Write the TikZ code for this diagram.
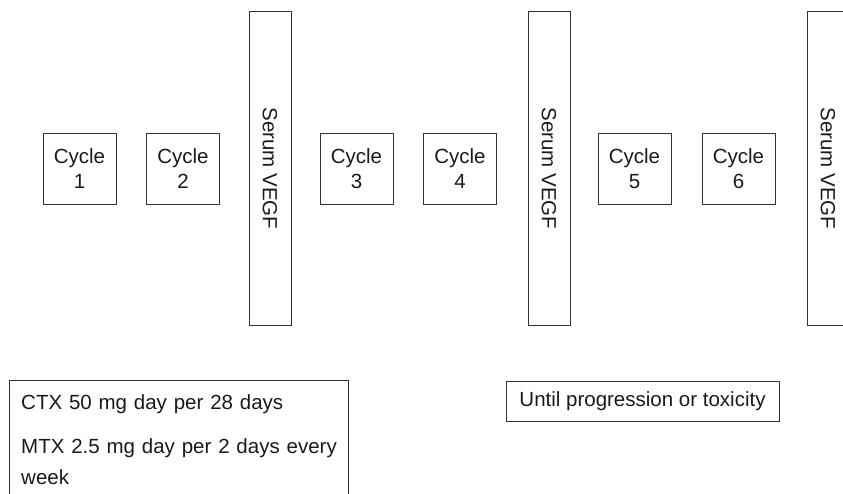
\documentclass[tikz,border=0pt]{standalone}
\usepackage{fontspec}
\setmainfont{Liberation Sans}
\definecolor{linec}{HTML}{333333}
\definecolor{textc}{HTML}{1A1A1A}
\begin{document}
\begin{tikzpicture}[x=1pt,y=-1pt,
  box/.style={draw=linec, line width=0.9pt, text=textc},
  cyc/.style={box, minimum width=73pt, minimum height=71pt, inner sep=0pt, align=center,
    font=\fontsize{20.5}{25}\selectfont},
  vegf/.style={box, rotate=-90, minimum width=314pt, minimum height=42pt, inner sep=0pt,
    font=\fontsize{20.5}{25}\selectfont},
  note/.style={text=textc, inner sep=0pt, font=\fontsize{20.5}{31}\selectfont}]
\useasboundingbox (0,0) rectangle (843,494);
\clip (0,0) rectangle (843,494);
\node[cyc] (c1) at (79.5,168.5) {Cycle\\1};
\node[cyc] (c2) at (183,168.5) {Cycle\\2};
\node[vegf] (v1) at (270,168.5) {Serum VEGF};
\node[cyc] (c3) at (356.5,168.5) {Cycle\\3};
\node[cyc] (c4) at (460,168.5) {Cycle\\4};
\node[vegf] (v2) at (549,168.5) {Serum VEGF};
\node[cyc] (c5) at (634.5,168.5) {Cycle\\5};
\node[cyc] (c6) at (738.5,168.5) {Cycle\\6};
\node[vegf] (v3) at (828,168.5) {Serum VEGF};
\node[box, minimum width=339pt, minimum height=150pt, anchor=north west, inner sep=0pt] (regbox) at (9,380) {};
\node[note, anchor=north west, text width=330pt, align=left] (regtext) at (21,394)
  {CTX 50 mg day per 28 days\\[13pt]MTX 2.5 mg day per 2 days every\\week};
\node[box, minimum width=273pt, minimum height=40pt, inner sep=0pt,
  font=\fontsize{20.5}{25}\selectfont] (until) at (642.5,401) {Until progression or toxicity};
\end{tikzpicture}
\end{document}
